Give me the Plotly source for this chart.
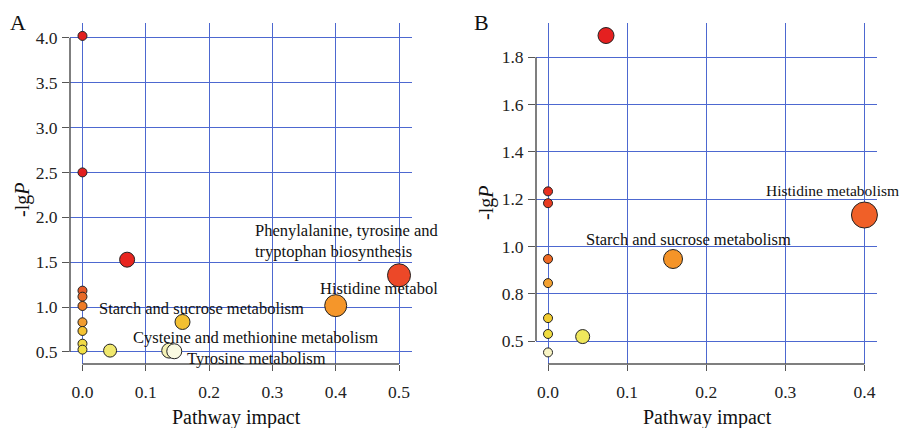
import plotly.graph_objects as go

# ---------------- Data ----------------
# Panel A
a_impact = [0.0, 0.0, 0.0705, 0.5, 0.4, 0.158, 0.0436, 0.137, 0.145,
            0.0, 0.0, 0.0, 0.0, 0.0, 0.0, 0.0]
a_lgp = [4.02, 2.50, 1.528, 1.354, 1.016, 0.834, 0.515, 0.515, 0.508,
         1.183, 1.116, 1.012, 0.831, 0.734, 0.592, 0.526]
a_colors = ["#e21f1f", "#e21f1f", "#e8251f", "#ec4828", "#f5962a", "#f3c032", "#f0e86e",
            "#f4f1b4", "#fafae2",
            "#e85a28", "#e86a28", "#ef7c28", "#f19c30", "#f4c232", "#f2da44", "#f1e046"]
a_sizes = [9, 9, 15, 23, 22, 15, 13, 15, 15, 9, 9, 9, 9, 9, 9, 9]

# Panel B
b_impact = [0.0733, 0.4, 0.158, 0.0438, 0.0, 0.0, 0.0, 0.0, 0.0, 0.0, 0.0]
b_lgp = [1.892, 1.133, 0.947, 0.619, 1.233, 1.183, 0.947, 0.845, 0.697, 0.630, 0.552]
b_colors = ["#e52020", "#f06028", "#f59428", "#efe75c", "#e83020", "#e83a20",
            "#ef6a25", "#f3a030", "#f2cc30", "#f0dc40", "#f8f4c4"]
b_sizes = [16, 26, 19, 14, 9, 9, 9, 9, 9, 9, 9]

a_xticks = [0.0, 0.1, 0.2, 0.3, 0.4, 0.5]
a_xticktext = ["0.0", "0.1", "0.2", "0.3", "0.4", "0.5"]
a_yticks = [0.5, 1.0, 1.5, 2.0, 2.5, 3.0, 3.5, 4.0]
a_yticktext = ["0.5", "1.0", "1.5", "2.0", "2.5", "3.0", "3.5", "4.0"]
b_xticks = [0.0, 0.1, 0.2, 0.3, 0.4]
b_xticktext = ["0.0", "0.1", "0.2", "0.3", "0.4"]
b_yticks = [0.6, 0.8, 1.0, 1.2, 1.4, 1.6, 1.8]
b_yticktext = ["0.5", "0.8", "1.0", "1.2", "1.4", "1.6", "1.8"]

a_labels = ["Phenylalanine, tyrosine and<br>tryptophan biosynthesis", "Histidine metabol",
            "Starch and sucrose metabolism", "Cysteine and methionine metabolism",
            "Tyrosine metabolism"]
a_label_x = [0.269, 0.3717, 0.0237, 0.0774, 0.1627]
a_label_y = [1.738, 1.205, 0.987, 0.659, 0.430]
b_labels = ["Histidine metabolism", "Starch and sucrose metabolism"]
b_label_x = [0.2735, 0.0455]
b_label_y = [1.236, 1.030]
b_label_size = [15.5, 16.5]

FONT = "Liberation Serif"
GRID = "#4d68d0"
AX = "#555555"
OFF = 8  # page body margin
W, H = 911 - OFF, 428 - OFF

fig = go.Figure()
fig.add_trace(go.Scatter(x=a_impact, y=a_lgp, mode="markers", xaxis="x", yaxis="y",
                         marker=dict(color=a_colors, size=a_sizes,
                                     line=dict(color="#222222", width=1), opacity=1),
                         showlegend=False, cliponaxis=False))
fig.add_trace(go.Scatter(x=b_impact, y=b_lgp, mode="markers", xaxis="x2", yaxis="y2",
                         marker=dict(color=b_colors, size=b_sizes,
                                     line=dict(color="#222222", width=1), opacity=1),
                         showlegend=False, cliponaxis=False))

def px_x(p):
    return (p - OFF) / W

def px_y(p):
    return 1 - (p - OFF) / H

TICKF = dict(family=FONT, size=17.5, color="#222222")
common_x = dict(showgrid=True, gridcolor=GRID, gridwidth=1.3, zeroline=False, showline=False,
                ticks="outside", ticklen=6, tickcolor=AX, tickwidth=1,
                tickfont=TICKF, tickmode="array", ticklabelstandoff=6)
common_y = dict(showgrid=True, gridcolor=GRID, gridwidth=1.3, zeroline=False, showline=False,
                ticks="outside", ticklen=7, tickcolor=AX, tickwidth=1,
                tickfont=TICKF, tickmode="array", ticklabelstandoff=1)

fig.update_layout(
    width=W, height=H, margin=dict(l=0, r=0, t=0, b=0, autoexpand=False),
    paper_bgcolor="white", plot_bgcolor="white",
    font=dict(family=FONT, color="#222222"),
    xaxis=dict(domain=[px_x(70), px_x(412)], range=[-0.0197, 0.5205], anchor="y",
               tickvals=a_xticks, ticktext=a_xticktext, **common_x),
    yaxis=dict(domain=[px_y(364), px_y(23)], range=[0.366, 4.164], anchor="x",
               tickvals=a_yticks, ticktext=a_yticktext, **common_y),
    xaxis2=dict(domain=[px_x(536), px_x(876.7)], range=[-0.0152, 0.4155], anchor="y2",
                tickvals=b_xticks, ticktext=b_xticktext, **common_x),
    yaxis2=dict(domain=[px_y(364), px_y(23)], range=[0.503, 1.945], anchor="x2",
                tickvals=b_yticks, ticktext=b_yticktext, **common_y),
)

shapes = [
    dict(type="line", xref="x domain", yref="y", x0=0, x1=0, y0=a_yticks[0], y1=a_yticks[-1],
         line=dict(color=AX, width=1.5)),
    dict(type="line", xref="x", yref="y domain", x0=a_xticks[0], x1=a_xticks[-1], y0=0, y1=0,
         line=dict(color=AX, width=1.5)),
    dict(type="line", xref="x2 domain", yref="y2", x0=0, x1=0, y0=b_yticks[0], y1=b_yticks[-1],
         line=dict(color=AX, width=1.5)),
    dict(type="line", xref="x2", yref="y2 domain", x0=b_xticks[0], x1=b_xticks[-1], y0=0, y1=0,
         line=dict(color=AX, width=1.5)),
]
fig.update_layout(shapes=shapes)

ann = []
LF = dict(family=FONT, size=16.5, color="#111111")
for t, x, y in zip(a_labels, a_label_x, a_label_y):
    ann.append(dict(text=t, x=x, y=y, xref="x", yref="y", xanchor="left", yanchor="middle",
                    align="left", showarrow=False, font=LF))
for t, x, y, s in zip(b_labels, b_label_x, b_label_y, b_label_size):
    ann.append(dict(text=t, x=x, y=y, xref="x2", yref="y2", xanchor="left", yanchor="middle",
                    align="left", showarrow=False,
                    font=dict(family=FONT, size=s, color="#111111")))

TF = dict(family=FONT, size=20, color="#111111")
ann += [
    dict(text="Pathway impact", x=px_x(236), y=px_y(417), xref="paper", yref="paper",
         xanchor="center", yanchor="middle", showarrow=False, font=TF),
    dict(text="Pathway impact", x=px_x(707), y=px_y(417), xref="paper", yref="paper",
         xanchor="center", yanchor="middle", showarrow=False, font=TF),
    dict(text="-lg<i>P</i>", x=px_x(23), y=px_y(200), xref="paper", yref="paper",
         xanchor="center", yanchor="middle", textangle=-90, showarrow=False, font=TF),
    dict(text="-lg<i>P</i>", x=px_x(486), y=px_y(203), xref="paper", yref="paper",
         xanchor="center", yanchor="middle", textangle=-90, showarrow=False, font=TF),
    dict(text="A", x=px_x(18), y=px_y(23), xref="paper", yref="paper",
         xanchor="center", yanchor="middle", showarrow=False,
         font=dict(family=FONT, size=22, color="#111111")),
    dict(text="B", x=px_x(481), y=px_y(23), xref="paper", yref="paper",
         xanchor="center", yanchor="middle", showarrow=False,
         font=dict(family=FONT, size=22, color="#111111")),
]
fig.update_layout(annotations=ann)

fig.write_html("out.html")
